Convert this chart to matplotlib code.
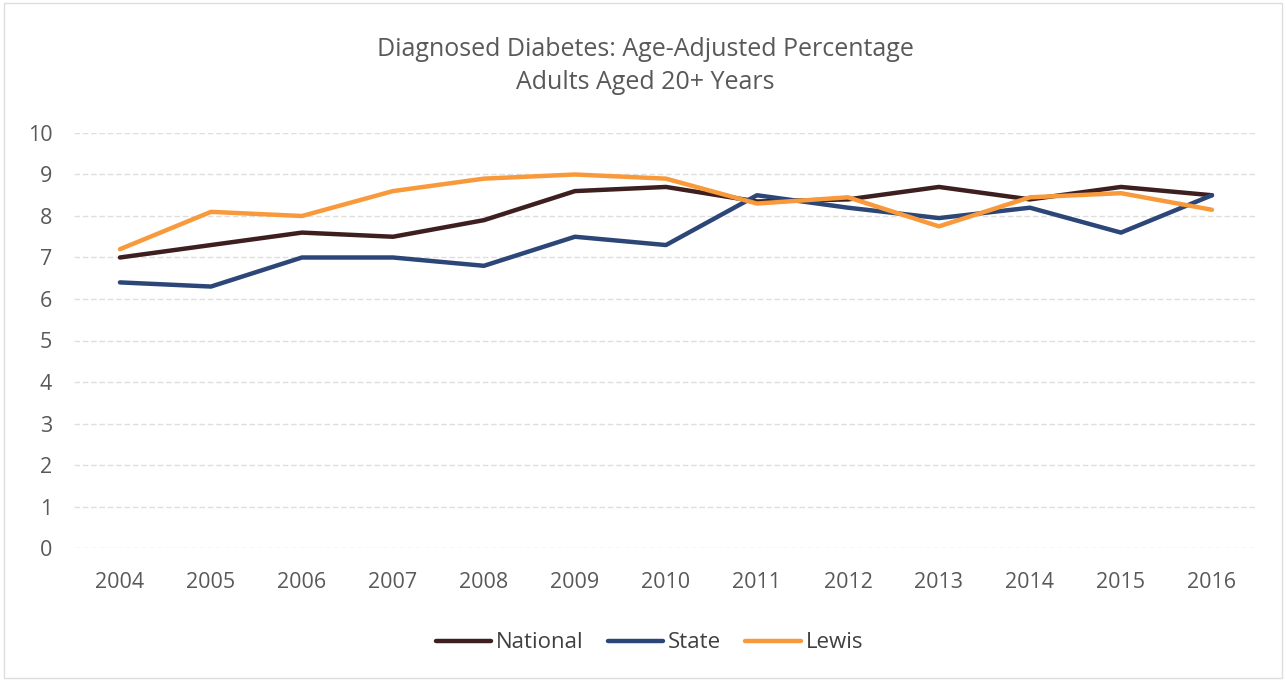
import matplotlib
matplotlib.use("Agg")
import matplotlib.pyplot as plt

years = ["2004", "2005", "2006", "2007", "2008", "2009", "2010",
         "2011", "2012", "2013", "2014", "2015", "2016"]
national = [7.0, 7.3, 7.6, 7.5, 7.9, 8.6, 8.7, 8.35, 8.4, 8.7, 8.4, 8.7, 8.5]
state = [6.4, 6.3, 7.0, 7.0, 6.8, 7.5, 7.3, 8.5, 8.2, 7.95, 8.2, 7.6, 8.5]
lewis = [7.2, 8.1, 8.0, 8.6, 8.9, 9.0, 8.9, 8.3, 8.45, 7.75, 8.45, 8.55, 8.15]
yticks = [0, 1, 2, 3, 4, 5, 6, 7, 8, 9, 10]

plt.rcParams['font.family'] = ['Open Sans', 'DejaVu Sans']

fig = plt.figure(figsize=(12.86, 6.81), dpi=100)
ax = fig.add_axes([0.0579, 0.1953, 0.9199, 0.6094])

x = list(range(len(years)))
ax.plot(x, national, color="#3d1f1f", lw=3.2, label="National", solid_capstyle="round")
ax.plot(x, state, color="#2b4677", lw=3.2, label="State", solid_capstyle="round")
ax.plot(x, lewis, color="#f89a3c", lw=3.2, label="Lewis", solid_capstyle="round")

ax.set_xlim(-0.5, len(years) - 0.5)
ax.set_ylim(0, 10)
ax.set_yticks(yticks)
ax.set_xticks(x)
ax.set_xticklabels(years)
ax.grid(axis="y", color="#dedede", lw=1, ls=(0, (4, 2)))
ax.set_axisbelow(True)
for s in ax.spines.values():
    s.set_visible(False)
ax.tick_params(length=0, labelsize=15.5, colors="#595959")
ax.tick_params(axis="x", pad=17)
ax.tick_params(axis="y", pad=16)

fig.text(0.502, 0.903, "Diagnosed Diabetes: Age-Adjusted Percentage\nAdults Aged 20+ Years",
         ha="center", va="center", fontsize=18, color="#595959", linespacing=1.4)

leg = fig.legend(loc="center", bbox_to_anchor=(0.505, 0.056), ncol=3, frameon=False,
                 fontsize=16, handlelength=2.5, columnspacing=1.1, handletextpad=0.2)
for t in leg.get_texts():
    t.set_color("#404040")

fig.patches.append(plt.Rectangle((0.003, 0.005), 0.994, 0.99, transform=fig.transFigure,
                                 fill=False, edgecolor="#dddddd", lw=1))

fig.savefig("out.png", dpi=100)
